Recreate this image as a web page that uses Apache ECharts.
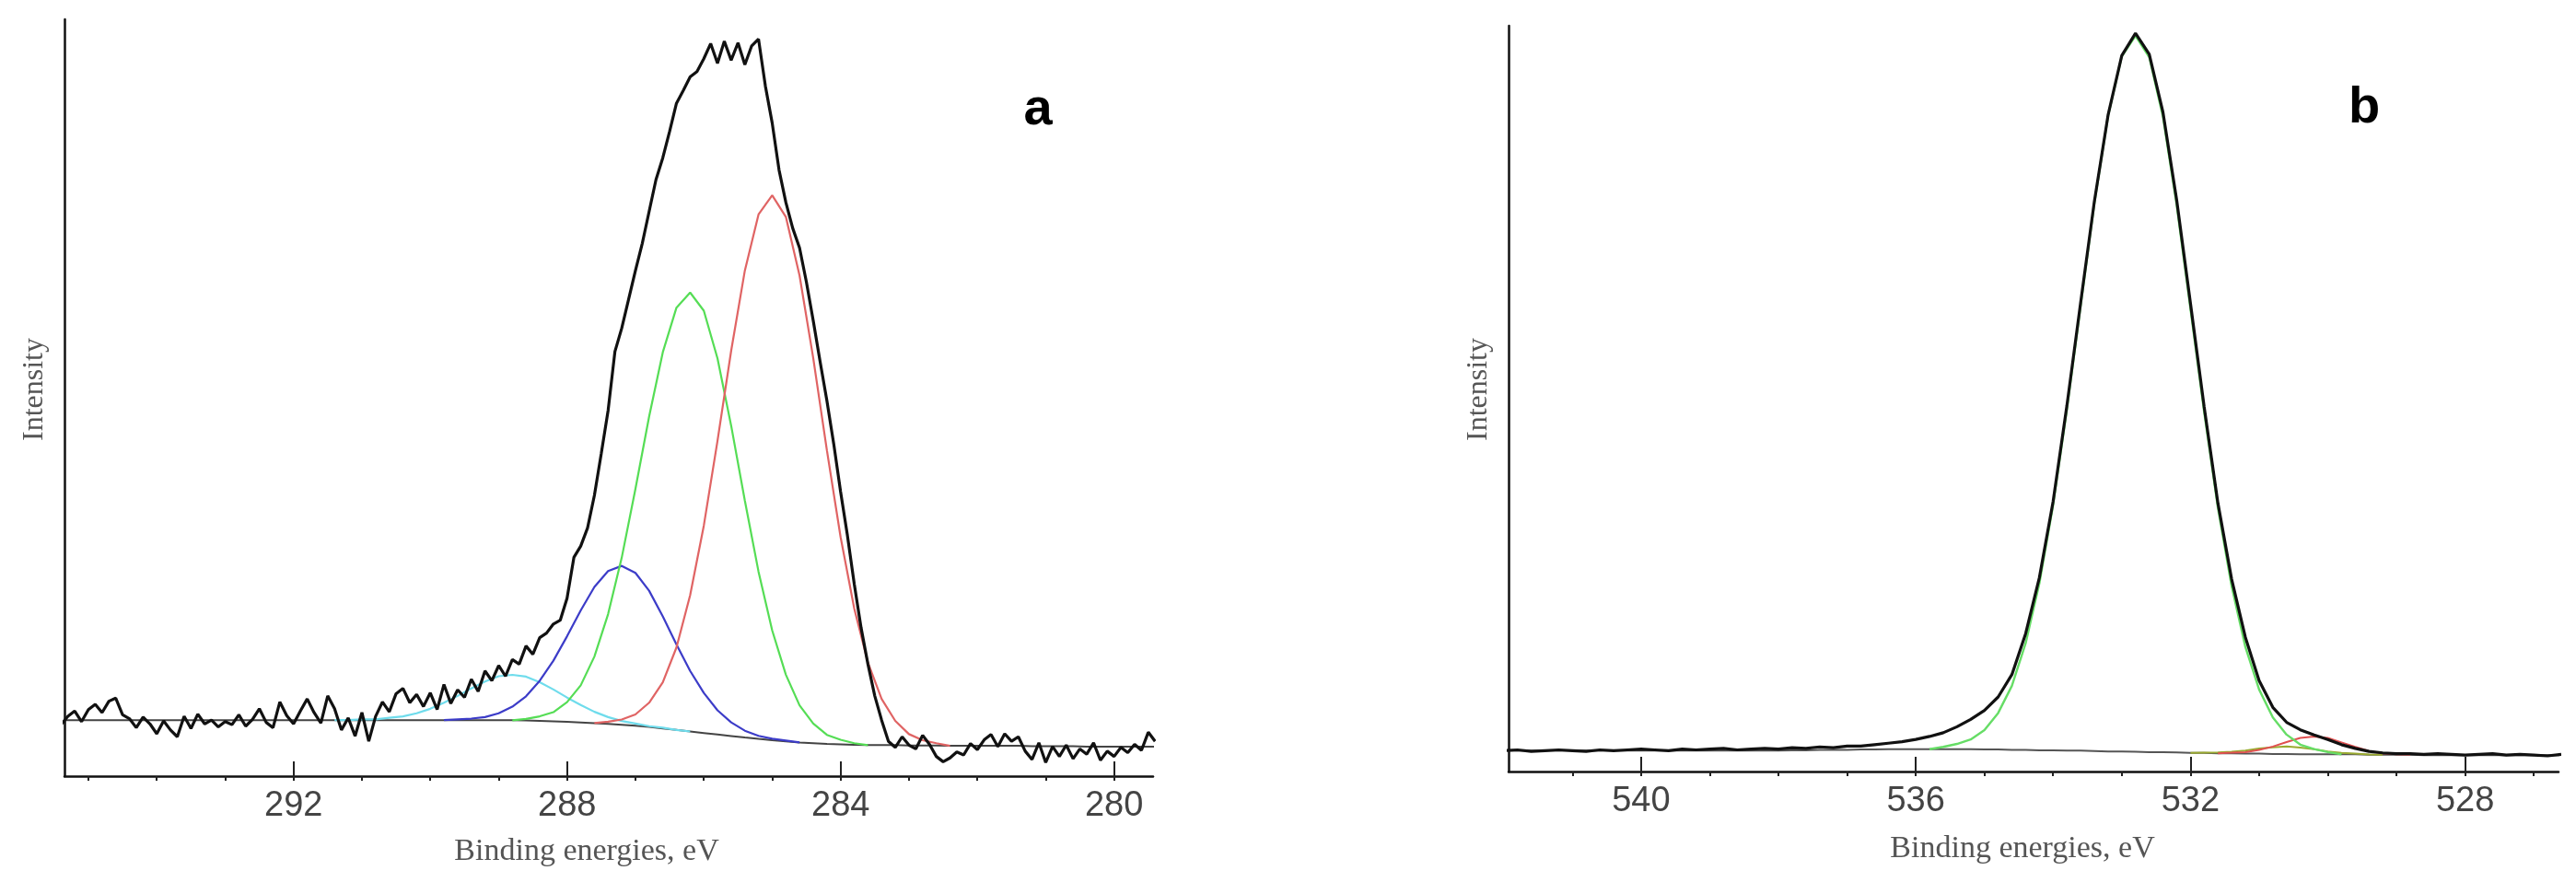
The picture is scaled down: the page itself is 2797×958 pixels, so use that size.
<!DOCTYPE html>
<html><head><meta charset="utf-8">
<script src="https://cdn.jsdelivr.net/npm/echarts@6/dist/echarts.min.js"></script>
<style>html,body{margin:0;padding:0;background:#fff}#c{width:2797px;height:958px}</style>
</head><body><div id="c"></div>
<script>
// ---------- Panel a (C1s) ----------
const aStart = 295.4, aStep = 0.1;
const aRaw = [6.8,7.9,8.6,7.2,8.8,9.5,8.4,9.9,10.3,8.1,7.6,6.4,7.8,6.9,5.6,7.3,6.1,5.2,7.9,6.3,8.2,6.9,7.4,6.5,7.2,6.8,8.1,6.6,7.5,8.9,7.1,6.4,9.8,8.0,6.9,8.6,10.2,8.4,7.0,10.6,8.9,6.1,7.7,5.3,8.4,4.6,7.9,9.8,8.5,
10.9,11.6,9.7,10.8,9.2,11.0,8.8,12.1,9.6,11.4,10.4,12.8,11.2,13.9,12.6,14.6,13.2,15.4,14.8,17.2,16.1,18.3,18.9,20.1,20.6,23.5,28.9,30.4,32.8,37.1,42.6,48.3,56.1,59.2,63.0,66.8,70.4,74.6,78.8,81.7,85.2,88.9,90.6,92.4,93.1,94.8,96.8,94.2,97.1,94.6,96.9,94.0,96.5,97.4,91.2,86.3,80.1,75.8,72.4,69.8,65.3,60.2,54.8,49.6,43.9,37.6,31.8,25.4,19.6,14.8,10.6,7.4,4.6,3.8,5.2,4.1,3.6,5.4,4.2,2.6,1.9,2.4,3.2,2.8,4.3,3.5,4.8,5.5,3.9,5.6,4.6,5.2,3.3,2.2,4.4,1.8,3.9,2.6,4.1,2.3,3.6,2.9,4.4,2.1,3.3,2.6,3.8,3.1,4.2,3.4,5.8,4.6];
const aBgStart = 295.4, fitStep = 0.2;
const aBg = [7.4,7.4,7.4,7.4,7.4,7.4,7.4,7.4,7.4,7.4,7.4,7.4,7.4,7.4,7.4,7.4,7.4,7.4,7.4,7.4,7.4,7.4,7.4,7.4,7.4,7.4,7.4,7.4,7.4,7.4,7.4,7.4,7.4,
7.38,7.35,7.3,7.25,7.18,7.1,7.0,6.9,6.78,6.65,6.5,6.3,6.1,5.9,5.7,5.5,5.3,5.1,4.92,4.75,4.6,4.45,4.35,4.25,4.2,4.15,
4.1,4.1,4.1,4.05,4.05,4.05,4.0,4.0,4.0,4.0,4.0,4.0,3.95,3.95,3.95,3.95,3.9,3.9,3.9,3.9,3.9,3.9];
const aRedStart = 287.6;
const aRed = [0,0.3,0.7,1.5,3.2,6.1,10.9,18,27.4,38.8,50.9,61.7,69.3,72,69.3,61.7,50.9,38.8,27.4,18,10.9,6.1,3.2,1.5,0.7,0.3,0];
const aGreenStart = 288.8;
const aGreen = [0,0.2,0.6,1.2,2.6,4.9,8.8,14.5,22.1,31.3,41,49.7,55.8,58,55.8,49.7,41,31.3,22.1,14.5,8.8,4.9,2.6,1.2,0.6,0.2,0];
const aBlueStart = 289.8;
const aBlue = [0,0.1,0.2,0.4,0.9,1.8,3.2,5.3,8,11.3,14.8,18,20.2,21,20.2,18,14.8,11.3,8,5.3,3.2,1.8,0.9,0.4,0.2,0.1,0];
const aCyanStart = 291.4;
const aCyan = [0,0,0.1,0.1,0.3,0.5,0.9,1.5,2.3,3.2,4.2,5.1,5.8,6,5.8,5.1,4.2,3.2,2.3,1.5,0.9,0.5,0.3,0.1,0.1,0,0];
const aTicks = [292,288,284,280];

// ---------- Panel b (O1s) ----------
const bStart = 542.0;
const bRaw = [2.8,2.9,2.7,2.8,2.9,2.8,2.7,2.9,2.8,2.9,3.0,2.9,2.8,3.0,2.9,3.0,3.1,2.9,3.0,3.1,3.0,3.2,3.1,3.3,3.2,3.4,3.4,3.6,
3.8,4.0,4.3,4.7,5.2,6.0,7.0,8.2,10.0,13.0,18.5,26.0,36.2,49.0,62.8,76.4,88.0,96.0,99.0,96.2,88.4,76.6,62.8,48.9,36.0,25.8,18.0,12.2,8.6,6.6,5.6,4.9,4.3,3.6,3.1,2.7,2.5,2.4,
2.4,2.3,2.4,2.3,2.2,2.3,2.4,2.2,2.3,2.2,2.1,2.3];
const bBg = [2.8,2.8,2.8,2.8,2.8,2.8,2.8,2.8,2.8,2.8,2.8,2.8,2.8,2.8,2.8,2.8,2.8,2.8,2.8,2.8,2.8,
2.85,2.85,2.9,2.9,2.9,2.95,2.95,3.0,3.0,3.0,
3.0,3.0,3.0,3.0,2.95,2.95,2.9,2.9,2.85,2.85,2.8,2.8,2.75,2.7,2.7,2.65,2.6,2.6,2.55,2.5,2.5,2.45,2.45,2.4,2.4,
2.35,2.35,2.3,2.3,2.3,2.3,2.3,2.25,2.25,2.25,2.25,2.2,2.2,2.2,2.2,2.2,2.2,2.2,2.2,2.2,2.2,2.2];
const bGreenStart = 535.8;
const bGreen = [0,0.3,0.7,1.3,2.6,4.9,8.6,14.3,22.4,32.9,45.7,59.6,73.4,85.2,93.2,96,93.2,85.2,73.4,59.6,45.7,32.9,22.4,14.3,8.6,4.9,2.6,1.3,0.7,0.3,0];
const bRedStart = 531.6;
const bRed = [0,0.07,0.2,0.5,1.0,1.6,2.2,2.4,2.2,1.6,1.0,0.5,0.2,0.07,0];
const bOliveStart = 532.0;
const bOlive = [0,0.03,0.1,0.2,0.4,0.7,0.9,1.0,0.9,0.7,0.4,0.2,0.1,0.03,0];
const bTicks = [540,536,532,528];

// ---------- helpers ----------
const r1 = v => Math.round(v * 100) / 100;
function seq(start, step, vals) { return vals.map((v, i) => [r1(start - i * step), v]); }
function bgMap(start, vals) { const m = {}; vals.forEach((v, i) => { m[r1(start - i * fitStep).toFixed(1)] = v; }); return m; }
function comp(start, vals, bm) { return vals.map((v, i) => { const x = r1(start - i * fitStep); return [x, r1(v + (bm[x.toFixed(1)] || 0))]; }); }
const aBM = bgMap(aBgStart, aBg), bBM = bgMap(bStart, bBg);
function ints(a, b) { const o = []; for (let v = Math.ceil(a); v <= Math.floor(b); v++) o.push(v); return o; }

const serif = '"Liberation Serif","DejaVu Serif",serif';
const sans = '"Liberation Sans",Arial,sans-serif';
const grids = [
  { left: 70, right: 1545, top: 21, bottom: 115 },
  { left: 1638, right: 19, top: 28, bottom: 120 }
];
const ranges = [[279.43, 295.35], [526.64, 541.93]];
const xAxes = [], yAxes = [];
[0, 1].forEach(g => {
  const [mn, mx] = ranges[g];
  xAxes.push({ type: 'value', gridIndex: g, min: mn, max: mx, inverse: true,
    axisLine: { onZero: false, lineStyle: { color: '#111', width: 2.5 } },
    axisTick: { inside: true, length: 16, lineStyle: { color: '#222', width: 2 }, customValues: g ? bTicks : aTicks },
    axisLabel: { customValues: g ? bTicks : aTicks, color: '#444', fontSize: 38, fontFamily: sans, margin: 14 },
    splitLine: { show: false } });
  xAxes.push({ type: 'value', gridIndex: g, min: mn, max: mx, inverse: true,
    axisLine: { show: false },
    axisTick: { inside: true, length: 5, lineStyle: { color: '#222', width: 2 }, customValues: ints(mn, mx) },
    axisLabel: { show: false }, splitLine: { show: false } });
  yAxes.push({ type: 'value', gridIndex: g, min: 0, max: 100,
    axisLine: { show: true, lineStyle: { color: '#111', width: 2.5 } },
    axisTick: { show: false }, axisLabel: { show: false }, splitLine: { show: false } });
});
function line(data, xi, yi, color, w, z) {
  return { type: 'line', xAxisIndex: xi, yAxisIndex: yi, data, showSymbol: false, symbol: 'none',
    lineStyle: { color, width: w }, z: z || 2, silent: true, animation: false };
}
const series = [
  line(seq(aBgStart, fitStep, aBg), 0, 0, '#444', 2, 2),
  line(comp(aCyanStart, aCyan, aBM), 0, 0, '#6fdcec', 2.2, 3),
  line(comp(aBlueStart, aBlue, aBM), 0, 0, '#3c3cc8', 2.2, 3),
  line(comp(aGreenStart, aGreen, aBM), 0, 0, '#55dd55', 2.2, 3),
  line(comp(aRedStart, aRed, aBM), 0, 0, '#e06464', 2.2, 3),
  line(seq(aStart, aStep, aRaw), 0, 0, '#111', 3.2, 4),
  line(seq(bStart, fitStep, bBg), 2, 1, '#555', 2, 2),
  line(comp(bOliveStart, bOlive, bBM), 2, 1, '#9aaa30', 2, 3),
  line(comp(bRedStart, bRed, bBM), 2, 1, '#e05050', 2, 3),
  line(comp(bGreenStart, bGreen, bBM), 2, 1, '#66dd66', 2.4, 3),
  line(seq(bStart, fitStep, bRaw), 2, 1, '#111', 3.2, 4)
];
const txt = (x, y, t, o) => Object.assign({ type: 'text', x, y, style: Object.assign({ text: t, fill: '#555', font: '34px ' + serif, textAlign: 'center', textVerticalAlign: 'middle' }, o || {}) });
const chart = echarts.init(document.getElementById('c'));
chart.setOption({
  animation: false, backgroundColor: '#fff',
  grid: grids, xAxis: xAxes, yAxis: yAxes, series,
  graphic: [
    txt(637, 925, 'Binding energies, eV'),
    txt(2196, 922, 'Binding energies, eV'),
    { type: 'text', x: 38, y: 423, rotation: Math.PI / 2, style: { text: 'Intensity', fill: '#555', font: '32px ' + serif, textAlign: 'center', textVerticalAlign: 'middle' } },
    { type: 'text', x: 1606, y: 423, rotation: Math.PI / 2, style: { text: 'Intensity', fill: '#555', font: '32px ' + serif, textAlign: 'center', textVerticalAlign: 'middle' } },
    txt(1127, 120, 'a', { fill: '#000', font: 'bold 56px ' + sans }),
    txt(2567, 118, 'b', { fill: '#000', font: 'bold 56px ' + sans })
  ]
});
</script></body></html>
